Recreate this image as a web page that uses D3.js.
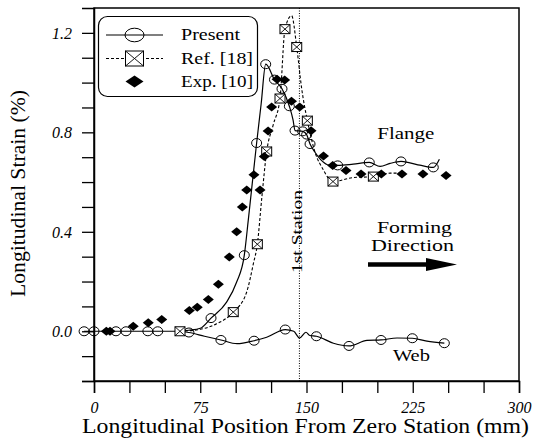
<!DOCTYPE html>
<html><head><meta charset="utf-8">
<script src="https://cdn.jsdelivr.net/npm/d3@7"></script>
<style>body{margin:0;background:#fff} text{font-family:"Liberation Serif", Tinos, Times, "Times New Roman", serif;}</style>
</head><body>
<svg id="c" width="534" height="440"></svg>
<script>
// ---- data ----
const webLineX = [-7, 0, 15.5, 22.6, 38, 45, 60, 67, 78, 89.6, 101, 113, 121.9, 135, 141, 145.1, 149.6, 152.3, 157, 169, 180, 192.7, 202.6, 213.9, 224.7, 235, 247.3];
const webLineY = [0, 0, 0, 0, 0, 0, 0, -0.005, -0.02, -0.035, -0.05, -0.038, -0.024, 0.007, 0.0, -0.027, -0.004, -0.017, -0.02, -0.048, -0.059, -0.037, -0.035, -0.027, -0.028, -0.04, -0.048];
const webMarkX = [-7, 0, 15.5, 22.6, 38, 45, 67, 89.6, 113, 135, 157, 180, 202.6, 224.7, 247.3];
const webMarkY = [0, 0, 0, 0, 0, 0, -0.005, -0.035, -0.038, 0.007, -0.02, -0.059, -0.035, -0.028, -0.048];

const presLineX = [60, 67, 75, 82.6, 93.6, 100.7, 106.1, 108.9, 114.8, 118, 121.2, 127.4, 132.7, 137.9, 140.5, 141.9, 147.3, 150.1, 152.5, 156, 160, 166, 172, 183, 194.3, 202, 209, 216.7, 223, 230, 239.5, 243.8];
const presLineY = [0, 0.004, 0.012, 0.053, 0.117, 0.198, 0.306, 0.447, 0.757, 0.915, 1.074, 1.012, 0.975, 0.905, 0.85, 0.807, 0.804, 0.791, 0.753, 0.72, 0.69, 0.668, 0.667, 0.672, 0.679, 0.663, 0.675, 0.683, 0.677, 0.668, 0.659, 0.692];
const presMarkX = [82.6, 106.1, 114.8, 121.2, 127.4, 132.7, 137.9, 141.9, 147.3, 150.1, 152.5, 172, 194.3, 216.7, 239.5];
const presMarkY = [0.053, 0.306, 0.757, 1.074, 1.012, 0.975, 0.905, 0.807, 0.804, 0.791, 0.753, 0.667, 0.679, 0.683, 0.659];

const refLineX = [60.7, 75, 86.6, 98.3, 107.8, 112.5, 115.3, 118.5, 121.9, 126.5, 131.3, 134.8, 139.5, 143.1, 146.5, 150.6, 156.2, 161.9, 165.4, 168.7, 183, 197.2, 209, 216];
const refLineY = [0, 0.008, 0.03, 0.077, 0.158, 0.272, 0.35, 0.54, 0.723, 0.83, 0.936, 1.215, 1.269, 1.143, 0.98, 0.847, 0.717, 0.649, 0.616, 0.602, 0.618, 0.622, 0.636, 0.636];
const refMarkX = [60.7, 98.3, 115.3, 121.9, 131.3, 134.8, 143.1, 150.6, 168.7, 197.2];
const refMarkY = [0, 0.077, 0.35, 0.723, 0.936, 1.215, 1.143, 0.847, 0.602, 0.622];

const expX = [8.7, 11.3, 27.7, 38.3, 47.8, 67.3, 72.9, 80.7, 87.8, 95.5, 100.7, 104.7, 107.8, 112.9, 117.2, 120.2, 122.9, 125.4, 129.2, 134.6, 139.4, 145.2, 153.2, 162, 168.5, 177.9, 188.5, 202.8, 217.4, 232.2, 248.5];
const expY = [0, 0, 0.02, 0.034, 0.047, 0.084, 0.097, 0.128, 0.189, 0.299, 0.40, 0.50, 0.568, 0.629, 0.568, 0.703, 0.805, 0.902, 1.013, 1.010, 0.925, 0.902, 0.806, 0.705, 0.667, 0.647, 0.632, 0.632, 0.632, 0.632, 0.626];

const xTicks = [0, 25, 50, 75, 100, 125, 150, 175, 200, 225, 250, 275, 300];
const xTickLabels = [0, 75, 150, 225, 300];
const yTicks = [-0.2, -0.1, 0, 0.1, 0.2, 0.3, 0.4, 0.5, 0.6, 0.7, 0.8, 0.9, 1.0, 1.1, 1.2];
const yTickLabels = [0, 0.4, 0.8, 1.2];
const stationX = 145;
const legendNames = ["Present", "Ref. [18]", "Exp. [10]"];

// ---- chart ----
const svg = d3.select("#c");
const x = d3.scaleLinear().domain([0, 300]).range([94, 519]);
const y = d3.scaleLinear().domain([-0.2, 1.3]).range([381, 8]);

// frame
svg.append("rect").attr("x", x(0)).attr("y", y(1.3)).attr("width", x(300) - x(0)).attr("height", y(-0.2) - y(1.3))
  .attr("fill", "none").attr("stroke", "#000").attr("stroke-width", 1.5);

// axes
const gx = svg.append("g").attr("transform", `translate(0,${y(-0.2)})`)
  .call(d3.axisBottom(x).tickValues(xTicks).tickSize(12).tickFormat(d => xTickLabels.includes(d) ? d : ""));
const gy = svg.append("g").attr("transform", `translate(${x(0)},0)`)
  .call(d3.axisLeft(y).tickValues(yTicks).tickSize(12).tickFormat(d => yTickLabels.some(v => Math.abs(v - d) < 1e-9) ? d.toFixed(1) : ""));
[gx, gy].forEach(g => {
  g.attr("font-family", null);
  g.select(".domain").attr("stroke-width", 1.5);
  g.selectAll(".tick line").attr("stroke-width", 1.3);
  g.selectAll(".tick text").attr("font-style", "italic").attr("font-size", 16).attr("fill", "#000");
});
gx.selectAll(".tick text").attr("dy", "0").attr("y", 32);
gy.selectAll(".tick text").attr("x", -22).attr("dy", "0.35em");

// axis titles
svg.append("text").attr("x", 82).attr("y", 433).attr("font-size", 20)
  .attr("textLength", 447).attr("lengthAdjust", "spacingAndGlyphs")
  .text("Longitudinal Position From Zero Station  (mm)");
svg.append("text").attr("transform", "translate(25,297) rotate(-90)").attr("font-size", 20)
  .attr("textLength", 207).attr("lengthAdjust", "spacingAndGlyphs")
  .text("Longitudinal Strain  (%)");

// station line
svg.append("line").attr("x1", x(stationX)).attr("x2", x(stationX)).attr("y1", y(1.3)).attr("y2", y(-0.2))
  .attr("stroke", "#000").attr("stroke-width", 1).attr("stroke-dasharray", "1,1.5");
svg.append("text").attr("transform", `translate(${x(stationX) + 3},273) rotate(-90)`)
  .attr("font-size", 15).attr("textLength", 83).attr("lengthAdjust", "spacingAndGlyphs")
  .text("1st Station");

// lines
const zip = (a, b) => a.map((v, i) => [v, b[i]]);
const line = d3.line().x(d => x(d[0])).y(d => y(d[1])).curve(d3.curveMonotoneX);
svg.append("path").attr("d", line(zip(webLineX, webLineY))).attr("fill", "none").attr("stroke", "#000").attr("stroke-width", 1.2);
svg.append("path").attr("d", line(zip(presLineX, presLineY))).attr("fill", "none").attr("stroke", "#000").attr("stroke-width", 1.2);
svg.append("path").attr("d", line(zip(refLineX, refLineY))).attr("fill", "none").attr("stroke", "#000").attr("stroke-width", 1.1).attr("stroke-dasharray", "3,2");

// markers
function circ(g, cx, cy, rx, ry) {
  g.append("ellipse").attr("cx", cx).attr("cy", cy).attr("rx", rx).attr("ry", ry)
    .attr("fill", "#fff").attr("fill-opacity", 0).attr("stroke", "#000").attr("stroke-width", 1);
}
function box(g, cx, cy, w, h) {
  g.append("rect").attr("x", cx - w / 2).attr("y", cy - h / 2).attr("width", w).attr("height", h)
    .attr("fill", "#fff").attr("stroke", "#000").attr("stroke-width", 1);
  g.append("path").attr("d", `M${cx - w / 2},${cy - h / 2}L${cx + w / 2},${cy + h / 2}M${cx + w / 2},${cy - h / 2}L${cx - w / 2},${cy + h / 2}`)
    .attr("stroke", "#000").attr("stroke-width", 0.9);
}
function diam(g, cx, cy, w, h) {
  g.append("path").attr("d", `M${cx},${cy - h / 2}L${cx + w / 2},${cy}L${cx},${cy + h / 2}L${cx - w / 2},${cy}Z`).attr("fill", "#000");
}
const gm = svg.append("g");
webMarkX.forEach((v, i) => circ(gm, x(v), y(webMarkY[i]), 5, 4.5));
presMarkX.forEach((v, i) => circ(gm, x(v), y(presMarkY[i]), 5, 4.5));
refMarkX.forEach((v, i) => box(gm, x(v), y(refMarkY[i]), 10, 9));
expX.forEach((v, i) => diam(gm, x(v), y(expY[i]), 11, 9));

// annotations
svg.append("text").attr("x", x(200)).attr("y", y(0.773)).attr("font-size", 17)
  .attr("textLength", 57).attr("lengthAdjust", "spacingAndGlyphs").text("Flange");
svg.append("text").attr("x", x(211)).attr("y", y(-0.12)).attr("font-size", 17)
  .attr("textLength", 37).attr("lengthAdjust", "spacingAndGlyphs").text("Web");
svg.append("text").attr("x", 377).attr("y", 233).attr("font-size", 16)
  .attr("textLength", 75).attr("lengthAdjust", "spacingAndGlyphs").text("Forming");
svg.append("text").attr("x", 371).attr("y", 251).attr("font-size", 16)
  .attr("textLength", 83).attr("lengthAdjust", "spacingAndGlyphs").text("Direction");
svg.append("line").attr("x1", 368).attr("x2", 430).attr("y1", 264.5).attr("y2", 264.5).attr("stroke", "#000").attr("stroke-width", 4.5);
svg.append("path").attr("d", "M426,258L457,264.5L426,271Z").attr("fill", "#000");

// legend
const lg = svg.append("g");
lg.append("rect").attr("x", 98.5).attr("y", 16.5).attr("width", 159).attr("height", 80).attr("rx", 9)
  .attr("fill", "#fff").attr("stroke", "#000").attr("stroke-width", 1.2);
const ly = [35, 58.5, 81.5];
lg.append("line").attr("x1", 106).attr("x2", 163).attr("y1", ly[0]).attr("y2", ly[0]).attr("stroke", "#000").attr("stroke-width", 1.1);
circ(lg, 134.5, ly[0], 9.5, 6.8);
lg.append("line").attr("x1", 106).attr("x2", 163).attr("y1", ly[1]).attr("y2", ly[1]).attr("stroke", "#000").attr("stroke-width", 1).attr("stroke-dasharray", "3,2");
box(lg, 134.5, ly[1], 18, 15);
diam(lg, 134.5, ly[2], 18, 12);
const lw = [59, 72, 72];
legendNames.forEach((n, i) => {
  lg.append("text").attr("x", 181).attr("y", ly[i] + 5).attr("font-size", 16)
    .attr("textLength", lw[i]).attr("lengthAdjust", "spacingAndGlyphs").text(n);
});
</script>
</body></html>
